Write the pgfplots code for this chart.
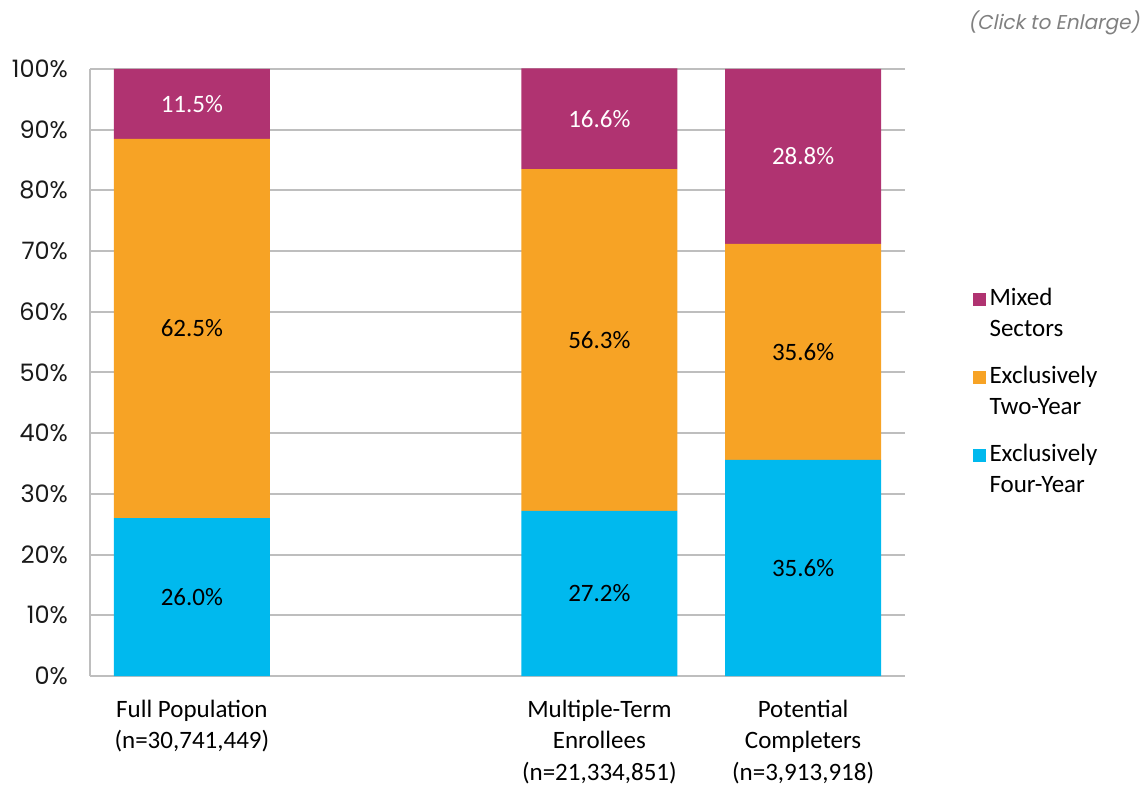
\documentclass[border=0pt]{standalone}
\usepackage{pgfplots}
\pgfplotsset{compat=1.18}
\usepackage{pgfplotstable}
\usepackage{fontspec}
\setmainfont{Carlito}
\newfontfamily\tickfont{Poppins}
\newfontfamily\clickfont[FakeSlant=0.2]{Poppins}

\definecolor{mixed}{HTML}{B03371}
\definecolor{twoyr}{HTML}{F7A325}
\definecolor{fouryr}{HTML}{00B9EE}
\definecolor{gridgray}{HTML}{BEBEBE}
\definecolor{ticktext}{HTML}{1A1A1A}

% shares in percent, x = slot (slot 1 stays empty)
\pgfplotstableread{
x four two mixed
0 26.0 62.5 11.5
2 27.2 56.3 16.6
3 35.6 35.6 28.8
}\shares

% label positions (middle of each segment)
\pgfplotstableread{
x fourmid four twomid two mixedmid mixed
0 13.0 26.0 57.25 62.5 94.25 11.5
2 13.6 27.2 55.35 56.3 91.8 16.6
3 17.8 35.6 53.4 35.6 85.6 28.8
}\labels

\pgfplotsset{
  common/.style={
    scale only axis, width=407.5pt, height=303.5pt,
    xmin=-0.5, xmax=3.5, ymin=0, ymax=100,
  },
}

\begin{document}
\begin{tikzpicture}
\begin{axis}[
    common,
    ybar stacked, bar width=78pt,
    xtick={0,2,3},
    xticklabels={{Full Population\\(n=30,741,449)},
                 {Multiple-Term\\Enrollees\\(n=21,334,851)},
                 {Potential\\Completers\\(n=3,913,918)}},
    xticklabel style={align=center, anchor=north, yshift=-8.5pt,
      font=\fontsize{12.5}{15.7}\selectfont},
    ytick={0,10,...,100},
    yticklabel={\pgfmathprintnumber[assume math mode=true]{\tick}\%},
    yticklabel style={font=\tickfont\fontsize{12}{13}\selectfont,
      text=ticktext, xshift=-7.5pt},
    major tick length=0pt,
    ymajorgrids=true,
    grid style={gridgray, line width=1pt},
    axis lines*=left,
    axis line style={-, gridgray, line width=1pt},
    legend style={at={(1.075,0.652)}, anchor=north west, draw=none, fill=none,
      font=\fontsize{12.5}{15.5}\selectfont, row sep=9.2pt,
      nodes={align=left}},
    legend cell align=left,
    reverse legend,
    legend image code/.code={\fill[#1] (0pt,4pt) rectangle (6.5pt,10.5pt);},
]
\addplot[fill=fouryr, draw=none] table[x=x, y=four] {\shares};
\addplot[fill=twoyr, draw=none] table[x=x, y=two] {\shares};
\addplot[fill=mixed, draw=none] table[x=x, y=mixed] {\shares};
\legend{{Exclusively\\Four-Year}, {Exclusively\\Two-Year}, {Mixed\\Sectors}}
\end{axis}

\begin{axis}[
    common, hide axis,
    nodes near coords={\pgfplotspointmeta\%},
    point meta=explicit symbolic,
    every node near coord/.append style={anchor=center,
      font=\fontsize{12.5}{15}\selectfont},
]
\addplot[draw=none, mark=none, nodes near coords style={text=black}]
  table[x=x, y=fourmid, meta=four] {\labels};
\addplot[draw=none, mark=none, nodes near coords style={text=black}]
  table[x=x, y=twomid, meta=two] {\labels};
\addplot[draw=none, mark=none, nodes near coords style={text=white}]
  table[x=x, y=mixedmid, meta=mixed] {\labels};
\end{axis}

\node[anchor=east, inner sep=0pt, text=gray,
  font=\clickfont\fontsize{10}{11}\selectfont]
  at (525pt,326.5pt) {(Click to Enlarge)};
\path[use as bounding box] (-45pt,-53pt) rectangle (527pt,338pt);
\end{tikzpicture}
\end{document}
